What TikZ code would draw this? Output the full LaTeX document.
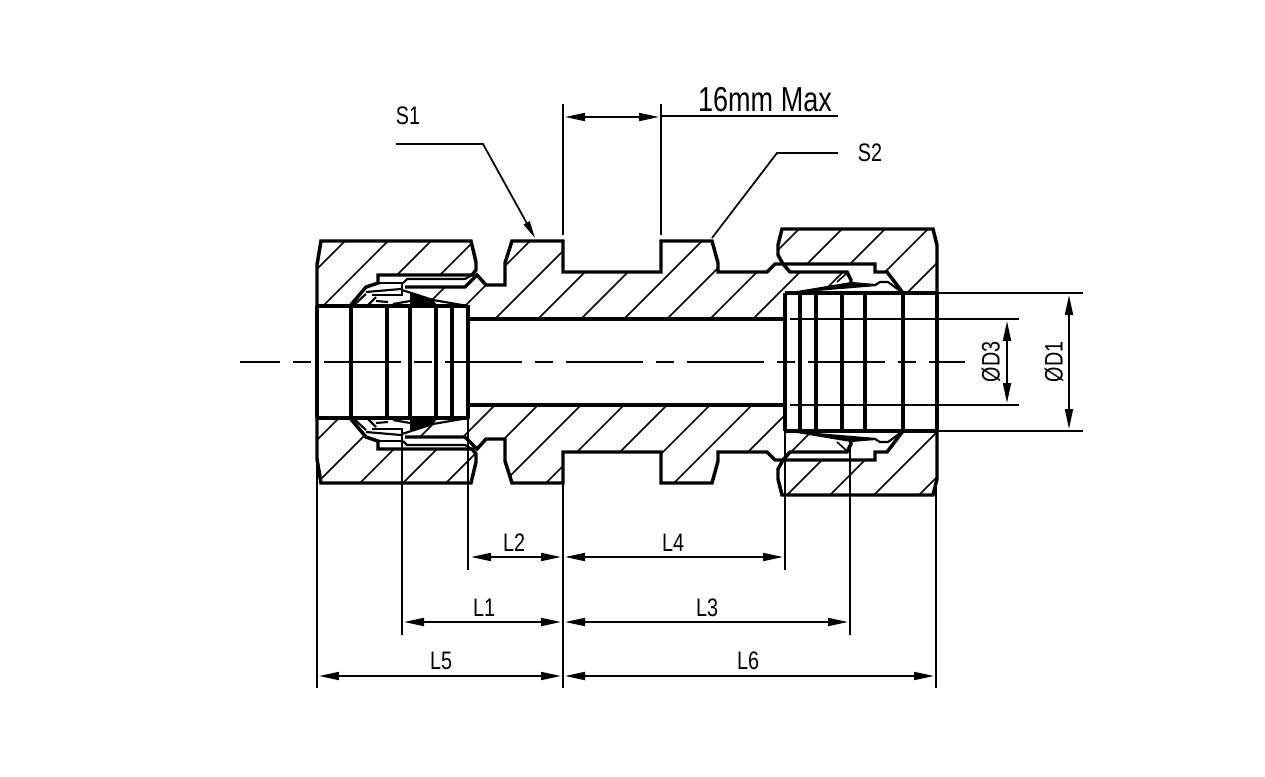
\documentclass[tikz,border=0pt]{standalone}
\usepackage{fontspec}
\setmainfont[FakeStretch=0.78]{Liberation Sans}
\usetikzlibrary{arrows.meta}
\tikzset{
  thick line/.style={line width=2.6pt,line join=miter},
  fine line/.style={line width=1.6pt},
  thin line/.style={line width=1.3pt},
  hatch line/.style={line width=1.2pt},
  dim line/.style={line width=1.3pt,shorten >=1.5pt,shorten <=1.5pt,{Triangle[length=15pt,width=6pt]}-{Triangle[length=15pt,width=6pt]}},
  center line/.style={line width=1.2pt,dash pattern=on 57.75pt off 9.75pt on 13.5pt off 9.75pt,dash phase=27.75pt},
  dim text/.style={font=\fontsize{19pt}{21pt}\selectfont,inner sep=0pt},
  top half/.style={},
  bottom half/.style={shift={(0,724)},yscale=-1},
}
% outlines of the top half, mirrored for the bottom
\newcommand{\NutLeft}{(317,306) -- (317,265) -- (321,241) -- (471,241) -- (476,262) -- (476,270) -- (472,275) -- (378,275) -- (378,283) -- (366,287) -- (350,306) -- cycle}
\newcommand{\NutRight}{(782,229) -- (933,229) -- (937,245) -- (937,293) -- (903,293) -- (887,272) -- (875,272) -- (875,264) -- (783,264) -- (778,255) -- (778,245) -- cycle}
\newcommand{\BodyHalf}{(468,319) -- (468,305) -- (433,300) -- (402,290) -- (405,287) -- (465,287) -- (477,275) -- (486,285) -- (505,285) -- (505,263) -- (512,241) -- (563,241) -- (563,272) -- (661,272) -- (661,241) -- (712,241) -- (718,263) -- (718,272) -- (767,272) -- (775,264) -- (783,264) -- (790,272) -- (847,272) -- (851,283) -- (798,292) -- (785,293) -- (785,319) -- cycle}
\begin{document}
\begin{tikzpicture}[x=0.75pt,y=-0.75pt]
  \useasboundingbox (0,0) rectangle (1265,776);
  % hatching, top half
  \begin{scope}
    \clip \NutLeft;
    \foreach \s in {586,629,672,715} \draw[hatch line] ({\s-220},220) -- ({\s-320},320);
  \end{scope}
  \begin{scope}
    \clip \NutRight;
    \foreach \s in {1028,1071,1114,1157,1200} \draw[hatch line] ({\s-220},220) -- ({\s-320},320);
  \end{scope}
  \begin{scope}
    \clip \BodyHalf;
    \foreach \s in {732,771,814,857,900,943,986,1029,1072,1115} \draw[hatch line] ({\s-220},220) -- ({\s-320},320);
  \end{scope}
  % hatching, bottom half
  \begin{scope}
    \path[clip,bottom half] \NutLeft;
    \foreach \s in {757,800,843,886,929} \draw[hatch line] ({\s-400},400) -- ({\s-500},500);
  \end{scope}
  \begin{scope}
    \path[clip,bottom half] \NutRight;
    \foreach \s in {1282,1325,1369,1414} \draw[hatch line] ({\s-400},400) -- ({\s-500},500);
  \end{scope}
  \begin{scope}
    \path[clip,bottom half] \BodyHalf;
    \foreach \s in {857,900,943,986,1029,1072,1115,1157,1200,1243} \draw[hatch line] ({\s-400},400) -- ({\s-500},500);
  \end{scope}
  % both halves
  \foreach \half in {top half,bottom half} {
    \begin{scope}[\half]
      \draw[thick line] \NutLeft;
      \draw[thick line] \NutRight;
      \draw[thick line] (785,319) -- (468,319) -- (468,305);
      \draw[thick line] (405,287) -- (465,287) -- (477,275) -- (486,285) -- (505,285) -- (505,263) -- (512,241) -- (563,241) -- (563,272) -- (661,272) -- (661,241) -- (712,241) -- (718,263) -- (718,272) -- (767,272) -- (775,264) -- (783,264) -- (790,272) -- (847,272) -- (851,280) -- (851,283);
      % left ferrule
      \fill (410,293) -- (433,300) -- (438,306) -- (410,306) -- cycle;
      \draw[fine line] (402,290) -- (433,300) -- (468,306);
      \draw[fine line] (378,283) -- (402,283) -- (402,295);
      \draw[fine line] (403,283) -- (407,279) -- (465,279) -- (472,275);
      \draw[fine line] (366,292) -- (401,289);
      \draw[fine line] (372,295) -- (403,295);
      \draw[fine line] (354,305) -- (366,294);
      \draw[fine line] (368,305) -- (376,297);
      \draw[fine line] (376,301) -- (388,302);
      \draw[fine line] (393,304) -- (410,301);
      % right ferrule
      \fill (785,293) -- (851,282) -- (877,286) -- (817,291) -- cycle;
      \draw[fine line] (851,283) -- (875,285) -- (880,282) -- (888,282) -- (903,293);
      \draw[hatch line] (837,282) -- (847,273);
    \end{scope}
  }
  \foreach \x in {351,387,410,436,452,468} \draw[thick line] (\x,306) -- (\x,418);
  \foreach \x in {785,800,816,842,865,903,937} \draw[thick line] (\x,293) -- (\x,431);
  \draw[thick line] (317,306) -- (317,418);
  \draw[thick line] (317,306) -- (468,306);
  \draw[thick line] (317,418) -- (468,418);
  \draw[thick line] (785,293) -- (937,293);
  \draw[thick line] (785,431) -- (937,431);
  % bore lines on the right
  \draw[thin line] (790,319) -- (1019,319);
  \draw[thin line] (790,405) -- (1019,405);
  % axis
  \coordinate (axisA) at (240,362);
  \coordinate (axisB) at (965,362);
  \draw[center line] (axisA) -- (axisB);
  % points of the dimensions
  \foreach \name/\x/\y in {
    topA/563/104,topB/661/104,topC/563/235,topD/661/235,
    arrA/563/117,arrB/661/117,maxA/661/116,maxB/838/116,
    sOneA/396/144,sOneB/483/144,sOneC/535/238,
    sTwoA/838/153,sTwoB/777/153,sTwoC/712/238,
    xA/317/462,xAe/317/688,xB/402/438,xBe/402/635,xC/468/419,xCe/468/570,
    xD/563/484,xDe/563/688,xE/785/431,xEe/785/570,xF/850/440,xFe/850/635,
    xG/936/480,xGe/936/688,
    hA/937/293,hAe/1083/293,hB/937/431,hBe/1083/431,
    dThreeA/1007/319,dThreeB/1007/405,dOneA/1069/293,dOneB/1069/431,
    lTwoA/469/557,lTwoB/563/557,lFourB/785/557,
    lOneA/402/622,lOneB/563/622,lThreeB/850/622,
    lFiveA/317/676,lFiveB/563/676,lSixB/936/676} {
    \coordinate (\name) at (\x,\y);
  }
  % extension lines
  \draw[thin line] (topA) -- (topC);
  \draw[thin line] (topB) -- (topD);
  \draw[thin line] (maxA) -- (maxB);
  \draw[thin line] (xA) -- (xAe);
  \draw[thin line] (xB) -- (xBe);
  \draw[thin line] (xC) -- (xCe);
  \draw[thin line] (xD) -- (xDe);
  \draw[thin line] (xE) -- (xEe);
  \draw[thin line] (xF) -- (xFe);
  \draw[thin line] (xG) -- (xGe);
  \draw[thin line] (hA) -- (hAe);
  \draw[thin line] (hB) -- (hBe);
  % leaders
  \draw[thin line,-{Triangle[length=13pt,width=5pt]}] (sOneA) -- (sOneB) -- (sOneC);
  \draw[thin line] (sTwoA) -- (sTwoB) -- (sTwoC);
  % dimensions
  \draw[dim line] (arrA) -- (arrB);
  \draw[dim line] (dThreeA) -- (dThreeB);
  \draw[dim line] (dOneA) -- (dOneB);
  \draw[dim line] (lTwoA) -- (lTwoB);
  \draw[dim line] (lTwoB) -- (lFourB);
  \draw[dim line] (lOneA) -- (lOneB);
  \draw[dim line] (lOneB) -- (lThreeB);
  \draw[dim line] (lFiveA) -- (lFiveB);
  \draw[dim line] (lFiveB) -- (lSixB);
  % labels
  \node[dim text] (labelS1) at (408,116) {S1};
  \node[dim text] (labelS2) at (870,153) {S2};
  \node[dim text,font=\fontsize{26pt}{28pt}\selectfont] (labelMax) at (765,100) {16mm Max};
  \node[dim text] (labelL2) at (514,543) {L2};
  \node[dim text] (labelL4) at (673,543) {L4};
  \node[dim text] (labelL1) at (484,608) {L1};
  \node[dim text] (labelL3) at (707,608) {L3};
  \node[dim text] (labelL5) at (441,661) {L5};
  \node[dim text] (labelL6) at (748,661) {L6};
  \node[dim text,rotate=90] (labelD3) at (991,362) {ØD3};
  \node[dim text,rotate=90] (labelD1) at (1054,362) {ØD1};
\end{tikzpicture}
\end{document}
